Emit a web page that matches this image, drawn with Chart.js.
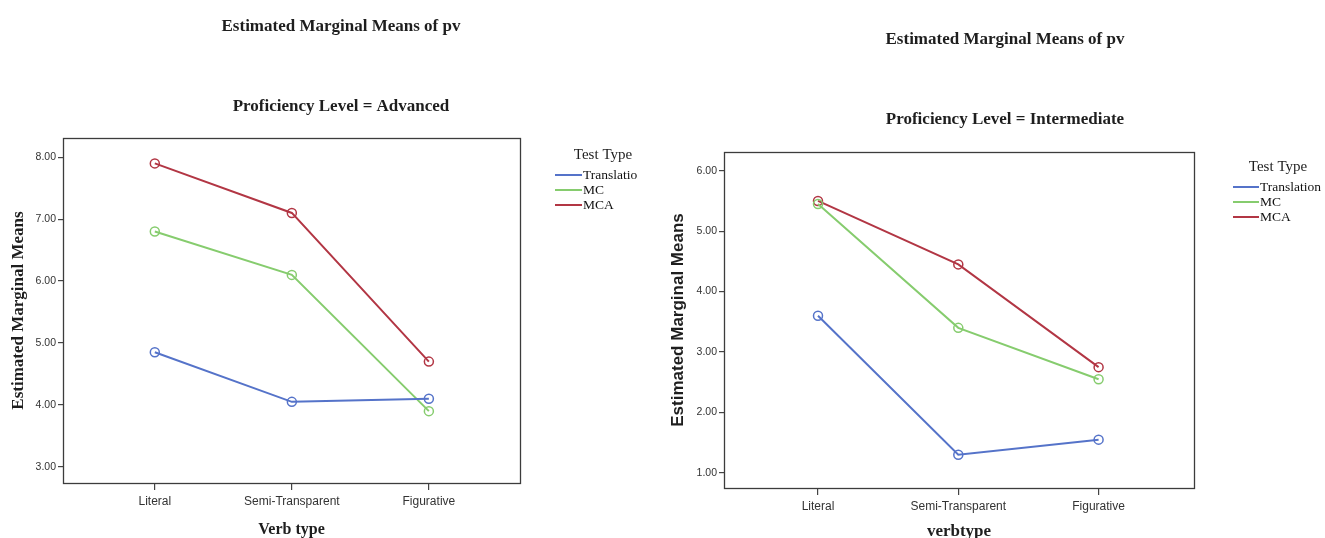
<!DOCTYPE html>
<html>
<head>
<meta charset="utf-8">
<script src="https://cdn.jsdelivr.net/npm/chart.js@4.4.1/dist/chart.umd.min.js"></script>
<style>
  html, body { margin: 0; padding: 0; background: #fff; }
  body { width: 1325px; height: 538px; position: relative; overflow: hidden; }
  .panel { position: absolute; top: 0; height: 538px; }
  #advPanel { left: 0; width: 662px; }
  #intPanel { left: 662px; width: 663px; }
</style>
</head>
<body>
<div class="panel" id="advPanel"><canvas id="advChart"></canvas></div>
<div class="panel" id="intPanel"><canvas id="intChart"></canvas></div>
<script>
// verb type categories shared by both panels
const verbTypes = ['Literal', 'Semi-Transparent', 'Figurative'];
const testTypes = ['Translation', 'MC', 'MCA'];

// Proficiency Level = Advanced
const advTranslation = [4.85, 4.05, 4.10];
const advMC = [6.80, 6.10, 3.90];
const advMCA = [7.90, 7.10, 4.70];
const advTicks = [3, 4, 5, 6, 7, 8];
const advLegend = ['Translatio', 'MC', 'MCA'];

// Proficiency Level = Intermediate
const intTranslation = [3.60, 1.30, 1.55];
const intMC = [5.45, 3.40, 2.55];
const intMCA = [5.50, 4.45, 2.75];
const intTicks = [1, 2, 3, 4, 5, 6];
const intLegend = ['Translation', 'MC', 'MCA'];

const lineColors = ['#5573c9', '#86cc6e', '#b23644'];
const serif = '"Liberation Serif", "Times New Roman", serif';
const sans = '"Liberation Sans", Arial, sans-serif';

// box around plot area + titles + test type legend
const panelDecor = {
    id: 'panelDecor',
    afterDraw(chart, args, opts) {
        const ctx = chart.ctx;
        const a = chart.chartArea;
        ctx.save();
        ctx.strokeStyle = '#3c3c3c';
        ctx.lineWidth = 1.3;
        ctx.strokeRect(a.left + 0.5, a.top + 0.5, a.right - a.left, a.bottom - a.top);

        ctx.fillStyle = '#1e1e1e';
        ctx.textAlign = 'center';
        ctx.textBaseline = 'middle';
        ctx.font = 'bold 17px ' + serif;
        ctx.fillText(opts.title, opts.centerX, opts.titleY);
        ctx.fillText(opts.subtitle, opts.centerX, opts.subtitleY);

        // legend
        ctx.font = '15px ' + serif;
        ctx.fillText('Test Type', opts.headerX, opts.legendY);
        ctx.textAlign = 'left';
        ctx.font = '13.5px ' + serif;
        chart.data.datasets.forEach((ds, i) => {
            const y = opts.legendY + opts.rowStart + i * opts.rowGap;
            ctx.strokeStyle = ds.borderColor;
            ctx.lineWidth = 2;
            ctx.beginPath();
            ctx.moveTo(opts.legendX, y);
            ctx.lineTo(opts.legendX + opts.lineLen, y);
            ctx.stroke();
            ctx.fillStyle = '#111';
            ctx.fillText(opts.labels[i], opts.legendX + opts.lineLen + 1, y);
        });
        ctx.restore();
    }
};

function makePanel(canvasId, series, ticks, cfg) {
    const datasets = series.map((vals, i) => ({
        label: testTypes[i],
        data: vals.map((v, j) => ({ x: j, y: v })),
        borderColor: lineColors[i],
        backgroundColor: 'rgba(255,255,255,0)',
        pointBackgroundColor: 'rgba(255,255,255,0)',
        pointBorderColor: lineColors[i],
        pointRadius: 4.5,
        pointBorderWidth: 1.5,
        borderWidth: 2,
        tension: 0
    }));

    return new Chart(document.getElementById(canvasId), {
        type: 'line',
        data: { datasets: datasets },
        options: {
            responsive: true,
            maintainAspectRatio: false,
            animation: false,
            layout: { padding: cfg.padding },
            plugins: {
                legend: { display: false },
                tooltip: { enabled: false },
                panelDecor: cfg.decor
            },
            scales: {
                x: {
                    type: 'linear',
                    min: cfg.xMin,
                    max: cfg.xMax,
                    afterBuildTicks: s => { s.ticks = verbTypes.map((c, i) => ({ value: i })); },
                    afterFit: s => { s.height = cfg.xHeight; },
                    grid: { drawOnChartArea: false, tickLength: 7, color: '#444', lineWidth: 1.2 },
                    border: { display: false },
                    ticks: {
                        padding: 4,
                        color: '#333',
                        font: { family: sans, size: 12 },
                        maxRotation: 0,
                        callback: v => verbTypes[v]
                    },
                    title: {
                        display: true,
                        text: cfg.xTitle,
                        color: '#1e1e1e',
                        font: cfg.xTitleFont,
                        padding: { top: 0, bottom: cfg.xTitlePad }
                    }
                },
                y: {
                    min: cfg.yMin,
                    max: cfg.yMax,
                    afterBuildTicks: s => { s.ticks = ticks.map(v => ({ value: v })); },
                    afterFit: s => { s.width = cfg.yWidth; },
                    grid: { drawOnChartArea: false, tickLength: 5, color: '#444', lineWidth: 1.2 },
                    border: { display: false },
                    ticks: {
                        padding: 2,
                        color: '#333',
                        font: { family: sans, size: 10.5 },
                        callback: v => Number(v).toFixed(2)
                    },
                    title: {
                        display: true,
                        text: 'Estimated Marginal Means',
                        color: '#1e1e1e',
                        font: cfg.yTitleFont,
                        padding: { top: cfg.yTitlePad, bottom: 0 }
                    }
                }
            }
        },
        plugins: [panelDecor]
    });
}

makePanel('advChart', [advTranslation, advMC, advMCA], advTicks, {
    padding: { top: 138, right: 142, bottom: 0, left: 0 },
    xMin: -0.67, xMax: 2.665,
    yMin: 2.74, yMax: 8.31,
    xHeight: 55, yWidth: 63,
    xTitle: 'Verb type',
    xTitleFont: { family: serif, size: 16, weight: 'bold' },
    xTitlePad: -1.6,
    yTitleFont: { family: serif, size: 17, weight: 'bold' },
    yTitlePad: 8,
    decor: {
        title: 'Estimated Marginal Means of pv',
        subtitle: 'Proficiency Level = Advanced',
        centerX: 341, titleY: 27, subtitleY: 107,
        legendX: 555, legendY: 155, headerX: 603,
        lineLen: 27, rowStart: 20, rowGap: 15,
        labels: advLegend
    }
});

makePanel('intChart', [intTranslation, intMC, intMCA], intTicks, {
    padding: { top: 152, right: 131, bottom: 0, left: 0 },
    xMin: -0.67, xMax: 2.68,
    yMin: 0.75, yMax: 6.31,
    xHeight: 50, yWidth: 62,
    xTitle: 'verbtype',
    xTitleFont: { family: serif, size: 17, weight: 'bold', lineHeight: 0.75 },
    xTitlePad: 0,
    yTitleFont: { family: sans, size: 17, weight: 'bold' },
    yTitlePad: 6,
    decor: {
        title: 'Estimated Marginal Means of pv',
        subtitle: 'Proficiency Level = Intermediate',
        centerX: 343, titleY: 40, subtitleY: 120,
        legendX: 571, legendY: 167, headerX: 616,
        lineLen: 26, rowStart: 20, rowGap: 15,
        labels: intLegend
    }
});
</script>
</body>
</html>
